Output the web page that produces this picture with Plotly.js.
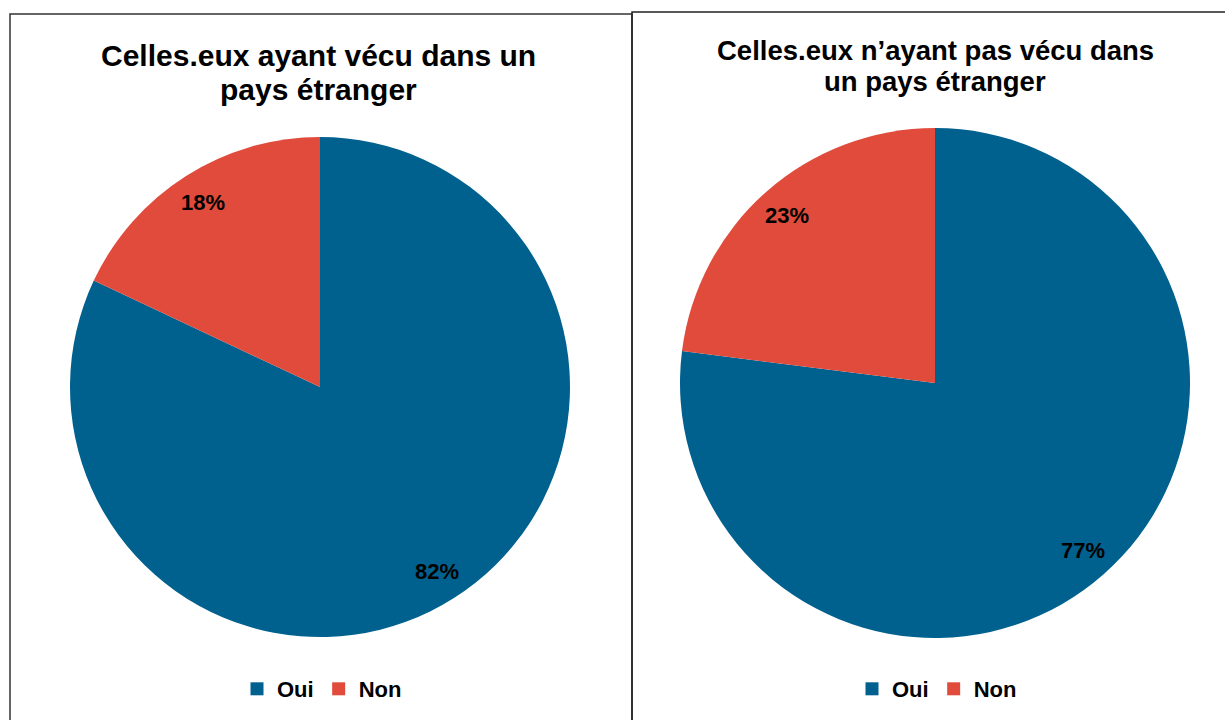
<!DOCTYPE html>
<html>
<head>
<meta charset="utf-8">
<script src="https://cdn.plot.ly/plotly-3.0.1.min.js"></script>
<style>html,body{margin:0;padding:0;background:#fff;}#chart{width:1225px;height:720px;}</style>
</head>
<body>
<div id="chart"></div>
<script>
const categories = ["Oui", "Non"];
const valuesLeft = [82, 18];
const valuesRight = [77, 23];
const titleLeft = ["Celles.eux ayant vécu dans un", "pays étranger"];
const titleRight = ["Celles.eux n’ayant pas vécu dans", "un pays étranger"];
const colors = ["#00618F", "#E04B3B"];

const W = 1225, H = 720;
const font = "Liberation Sans, Arial, sans-serif";

const pies = [
  {cx: 320, cy: 387, r: 250, values: valuesLeft, legend: "legend", title: titleLeft, tx: 318, ty: [56, 89], tsize: 30},
  {cx: 935, cy: 383, r: 255, values: valuesRight, legend: "legend2", title: titleRight, tx: 935, ty: [51, 81], tsize: 27.5}
];

const traces = [];
const annotations = [];
pies.forEach((p, i) => {
  traces.push({
    type: "pie",
    labels: categories,
    values: p.values,
    marker: {colors: colors, line: {width: 0}},
    sort: false,
    direction: "clockwise",
    rotation: 0,
    textinfo: "none",
    hoverinfo: "label+percent",
    showlegend: false,
    domain: {x: [(p.cx - p.r) / W, (p.cx + p.r) / W], y: [(H - p.cy - p.r) / H, (H - p.cy + p.r) / H]}
  });
  // legend entries (dummy markers, one legend per panel)
  categories.forEach((c, k) => {
    traces.push({
      type: "scatter", mode: "markers",
      x: [null], y: [null],
      name: c,
      marker: {symbol: "square", size: 13, color: colors[k]},
      legend: p.legend,
      showlegend: true,
      hoverinfo: "skip"
    });
  });
  const total = p.values.reduce((a, b) => a + b, 0);
  let cum = 0;
  p.values.forEach(v => {
    const mid = (cum + v / 2) / total * 2 * Math.PI;
    cum += v;
    const d = 0.875 * p.r;
    annotations.push({
      xref: "paper", yref: "paper",
      x: (p.cx + d * Math.sin(mid)) / W,
      y: (H - p.cy + d * Math.cos(mid)) / H,
      text: "<b>" + Math.round(v / total * 100) + "%</b>",
      showarrow: false,
      font: {family: font, size: 22, color: "#000"},
      xanchor: "center", yanchor: "middle"
    });
  });
  p.title.forEach((line, j) => {
    annotations.push({
      xref: "paper", yref: "paper",
      x: p.tx / W, y: (H - p.ty[j]) / H,
      text: "<b>" + line + "</b>",
      showarrow: false,
      font: {family: font, size: p.tsize, color: "#000"},
      xanchor: "center", yanchor: "middle",
      align: "center"
    });
  });
});

const legendBase = {
  orientation: "h",
  xanchor: "center", yanchor: "middle",
  y: (H - 689) / H,
  font: {family: font, size: 22, color: "#000", weight: "bold"},
  bgcolor: "rgba(0,0,0,0)",
  itemwidth: 30,
  traceorder: "normal"
};

const layout = {
  width: W, height: H,
  margin: {l: 0, r: 0, t: 0, b: 0},
  paper_bgcolor: "#ffffff",
  plot_bgcolor: "rgba(0,0,0,0)",
  xaxis: {visible: false, range: [0, 1]},
  yaxis: {visible: false, range: [0, 1]},
  showlegend: true,
  legend: Object.assign({}, legendBase, {x: 322 / W}),
  legend2: Object.assign({}, legendBase, {x: 937 / W}),
  annotations: annotations,
  shapes: [
    {type: "rect", xref: "paper", yref: "paper", x0: 10 / W, x1: 632 / W, y0: -0.05, y1: (H - 14) / H,
     line: {color: "#333", width: 1.5}, fillcolor: "rgba(0,0,0,0)", layer: "below"},
    {type: "rect", xref: "paper", yref: "paper", x0: 632 / W, x1: 1.05, y0: -0.05, y1: (H - 12) / H,
     line: {color: "#222", width: 1.5}, fillcolor: "rgba(0,0,0,0)", layer: "below"}
  ]
};

Plotly.newPlot("chart", traces, layout, {displayModeBar: false, staticPlot: true});
</script>
</body>
</html>
